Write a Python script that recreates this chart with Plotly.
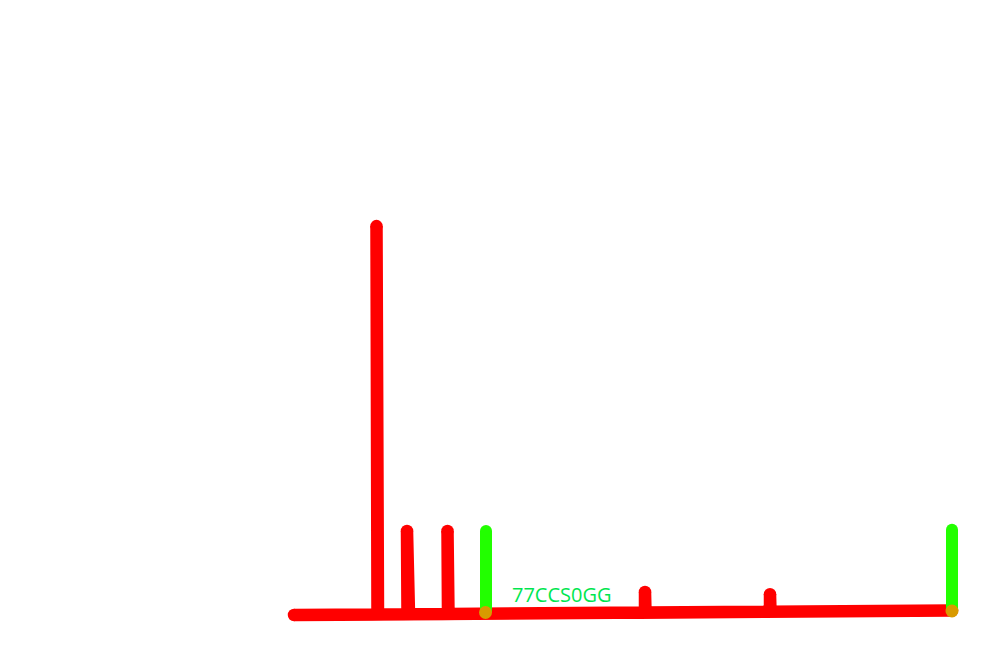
import plotly.graph_objects as go

# Red series (x position, value)
red_x = [294, 377.5, 376.5, 378, 407.5, 407, 409, 448, 447.5, 448.5, 645, 645, 645.5, 770, 770, 770.5, 952]
red_y = [-0.52, -0.37, 100.5, -0.37, -0.32, 21.3, -0.32, -0.25, 21.3, -0.25, 0.10, 5.45, 0.10, 0.33, 4.9, 0.33, 0.65]

# Spike tops / ends (for round caps)
red_cap_x = [294, 376.5, 407, 447.5, 645, 770, 952]
red_cap_y = [-0.52, 100.5, 21.3, 21.3, 5.45, 4.9, 0.65]

# Green series
green_x = [486, 486, None, 952, 952]
green_y = [21.3, 0.26, None, 21.6, 0.52]
green_top_x = [486, 952]
green_top_y = [21.3, 21.6]

# Overlap points
orange_x = [485.5, 952]
orange_y = [0.13, 0.52]

label_text = "77CCS0GG"
label_x = 510
label_y = 4.68

fig = go.Figure()
fig.add_trace(go.Scatter(x=red_x, y=red_y, mode="lines",
                         line=dict(color="#FF0000", width=12.5), hoverinfo="skip"))
fig.add_trace(go.Scatter(x=red_cap_x, y=red_cap_y, mode="markers",
                         marker=dict(color="#FF0000", size=12.5, line=dict(width=0)), hoverinfo="skip"))
fig.add_trace(go.Scatter(x=green_x, y=green_y, mode="lines",
                         line=dict(color="#22FF00", width=12), hoverinfo="skip"))
fig.add_trace(go.Scatter(x=green_top_x, y=green_top_y, mode="markers",
                         marker=dict(color="#22FF00", size=12, line=dict(width=0)), hoverinfo="skip"))
fig.add_trace(go.Scatter(x=orange_x, y=orange_y, mode="markers",
                         marker=dict(color="#D89A00", size=13, line=dict(width=0)), hoverinfo="skip"))

fig.add_annotation(x=label_x, y=label_y, text=label_text, showarrow=False,
                   xanchor="left", yanchor="middle",
                   font=dict(family="Open Sans", size=20, color="#00E650"))

fig.update_layout(
    width=1000, height=652,
    margin=dict(l=0, r=0, t=0, b=0),
    paper_bgcolor="white", plot_bgcolor="white",
    showlegend=False,
    xaxis=dict(range=[0, 1000], visible=False, showgrid=False, zeroline=False),
    yaxis=dict(range=[-10.13, 159.22], visible=False, showgrid=False, zeroline=False),
)

fig.write_html("out.html", config={"displayModeBar": False})
